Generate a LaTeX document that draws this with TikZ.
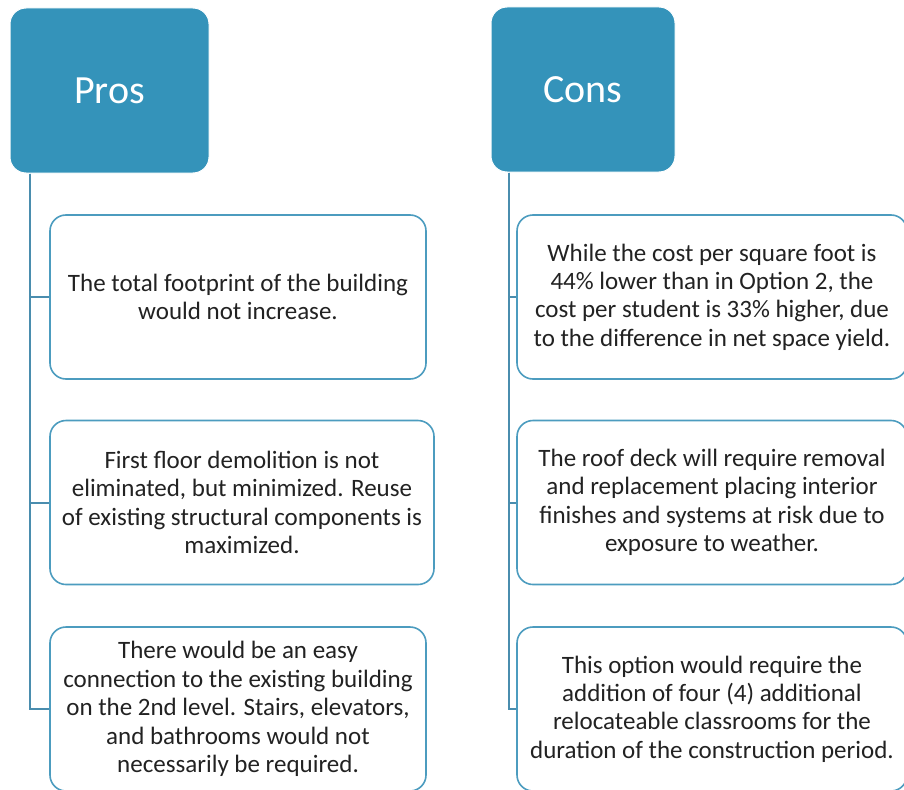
\documentclass[tikz,border=0pt]{standalone}
\usepackage{fontspec}
\setmainfont{Carlito}
\definecolor{headblue}{HTML}{3493BA}
\definecolor{edgeblue}{HTML}{4C9CBF}
\definecolor{linkblue}{HTML}{4A8DAE}
\definecolor{bodytext}{HTML}{222222}
\begin{document}
\begin{tikzpicture}[x=1pt,y=-1pt,
  header/.style={rectangle, rounded corners=16pt, fill=headblue, draw=white, line width=1pt,
    text=white, inner sep=0pt, font=\fontsize{40}{48}\selectfont},
  itembox/.style={rectangle, rounded corners=16pt, draw=edgeblue, fill=white, line width=1.6pt,
    text=bodytext, align=center, inner sep=0pt, minimum height=164pt,
    font=\fontsize{25}{28.4}\selectfont},
  link/.style={draw=linkblue, line width=2pt}]
\useasboundingbox (0,0) rectangle (904,789);
\clip (0,0) rectangle (904,789);
\fill[white] (0,0) rectangle (904,789);

% column headers
\node[header, minimum width=199pt, minimum height=165pt] (pros) at (109.5,90.5) {Pros};
\node[header, minimum width=184pt, minimum height=165pt] (cons) at (583,89.5) {Cons};

% pros column
\node[itembox, minimum width=376pt] (p1) at (238,297)
  {The total footprint of the building\\would not increase.};
\node[itembox, minimum width=384pt] (p2) at (242,502.5)
  {First floor demolition is not\\eliminated, but minimized. Reuse\\of existing structural components is\\maximized.};
\node[itembox, minimum width=376pt] (p3) at (238,709)
  {There would be an easy\\connection to the existing building\\on the 2nd level. Stairs, elevators,\\and bathrooms would not\\necessarily be required.};

% cons column
\node[itembox, minimum width=390pt] (c1) at (712,297)
  {While the cost per square foot is\\44\% lower than in Option 2, the\\cost per student is 33\% higher, due\\to the difference in net space yield.};
\node[itembox, minimum width=390pt] (c2) at (712,502.5)
  {The roof deck will require removal\\and replacement placing interior\\finishes and systems at risk due to\\exposure to weather.};
\node[itembox, minimum width=390pt] (c3) at (712,709)
  {This option would require the\\addition of four (4) additional\\relocateable classrooms for the\\duration of the construction period.};

% tree connectors
\foreach \b in {p1,p2,p3}
  \draw[link] (pros.south west) ++(20,0) |- (\b.west);
\foreach \b in {c1,c2,c3}
  \draw[link] (cons.south west) ++(18.5,0) |- (\b.west);
\end{tikzpicture}
\end{document}
